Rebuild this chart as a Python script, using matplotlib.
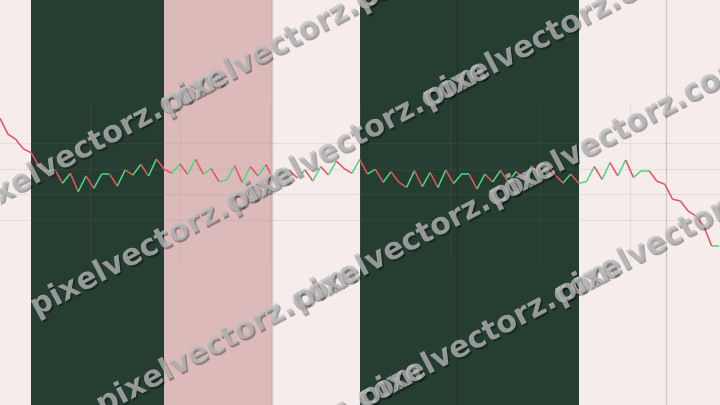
import numpy as np
import matplotlib
matplotlib.use("Agg")
import matplotlib.pyplot as plt
from matplotlib.collections import LineCollection
from matplotlib.transforms import IdentityTransform
import matplotlib.patheffects as pe

# ---- data (series level; arbitrary units) ----
prices = [286.7, 271.0, 265.7, 256.0, 252.3, 238.3, 233.3, 235.7, 221.7, 231.7,
          213.3, 229.0, 216.7, 231.0, 231.0, 219.0, 235.0, 230.0, 240.7, 229.0,
          246.0, 235.7, 231.7, 241.0, 230.7, 245.7, 230.7, 236.5, 223.3, 225.0,
          239.3, 222.0, 238.5, 229.0, 240.5, 225.0, 235.0, 235.0, 227.0, 235.0,
          224.0, 238.5, 230.0, 244.0, 236.5, 231.7, 245.5, 231.0, 235.7, 222.7,
          233.3, 222.7, 217.7, 234.3, 218.3, 232.5, 217.5, 235.0, 221.5, 230.7,
          230.7, 216.0, 231.0, 223.0, 234.5, 223.0, 233.5, 226.0, 239.0, 230.0,
          241.0, 230.0, 222.0, 231.0, 221.7, 223.3, 238.5, 225.5, 242.3, 229.0,
          245.0, 227.5, 234.3, 234.3, 223.7, 220.8, 205.8, 204.0, 193.8, 189.0,
          178.7, 159.0, 159.0]
# regime bands: edges in index units and kind of each band
band_edges = [0, 4, 21, 34.8, 46, 74, 92.1]
band_kinds = ["neutral", "bull", "bear", "neutral", "bull", "neutral"]
# major vertical markers (index units)
markers = [34.8, 58.45, 85.15]
watermark = "pixelvectorz.com"

colors = {"neutral": "#f5eceb", "bull": "#263d31", "bear": "#dbbab9"}
up_c, dn_c = "#4cd97f", "#e8525e"

W, H = 720, 405
fig = plt.figure(figsize=(W / 100, H / 100), dpi=100)
ax = fig.add_axes([0, 0, 1, 1])
x = np.arange(len(prices))
y = np.array(prices)
xmax = 92.07
ax.set_xlim(0, xmax)
ax.set_ylim(0, 405)
ax.axis("off")

for i, kind in enumerate(band_kinds):
    ax.axvspan(band_edges[i], band_edges[i + 1], color=colors[kind], lw=0, zorder=0)

# faint grid
for yy in [262, 236, 211, 185]:
    ax.axhline(yy, color="#808080", alpha=0.13, lw=0.8, zorder=1)
for k in range(1, 8):
    ax.vlines(xmax * k / 8, 143, 302, color="#808080", alpha=0.13, lw=0.8, zorder=1)
for m in markers:
    ax.axvline(m, color="#000000", alpha=0.14, lw=1.0, zorder=1)

pts = np.column_stack([x, y])
segs = np.stack([pts[:-1], pts[1:]], axis=1)
seg_cols = [up_c if y[i + 1] >= y[i] else dn_c for i in range(len(y) - 1)]
lc = LineCollection(segs, colors=seg_cols, linewidths=1.1, zorder=3)
ax.add_collection(lc)

# watermark: rotated 3 x 4 tiling (pixel space, y measured from top)
u = np.array([196.0, -104.0])          # along-text repeat
v = np.array([66.0, 98.0])             # row offset
theta = np.degrees(np.arctan2(-u[1], u[0]))
fs = np.hypot(*u) / 7.335 * 72 / 100   # advance of "pixelvectorz." equals |u|
em = fs * 100 / 72
th = np.deg2rad(theta)
origin = np.array([500.0, 194.0])
off = 0.36 * em * np.array([np.cos(th), -np.sin(th)]) + 0.28 * em * np.array([-np.sin(th), -np.cos(th)])
shadow = [pe.withSimplePatchShadow(offset=(1.3, -1.3), shadow_rgbFace=(0, 0, 0), alpha=0.32)]
for j in range(-2, 2):
    for i in range(-2, 1):
        p = origin + i * u + j * v - off
        fig.text(p[0], H - p[1], watermark, transform=IdentityTransform(),
                 fontsize=fs, fontweight="bold", color=(190/255, 190/255, 190/255, 0.75),
                 rotation=theta, rotation_mode="anchor", ha="left", va="baseline",
                 zorder=10, path_effects=shadow)

fig.savefig("out.png", dpi=100)
